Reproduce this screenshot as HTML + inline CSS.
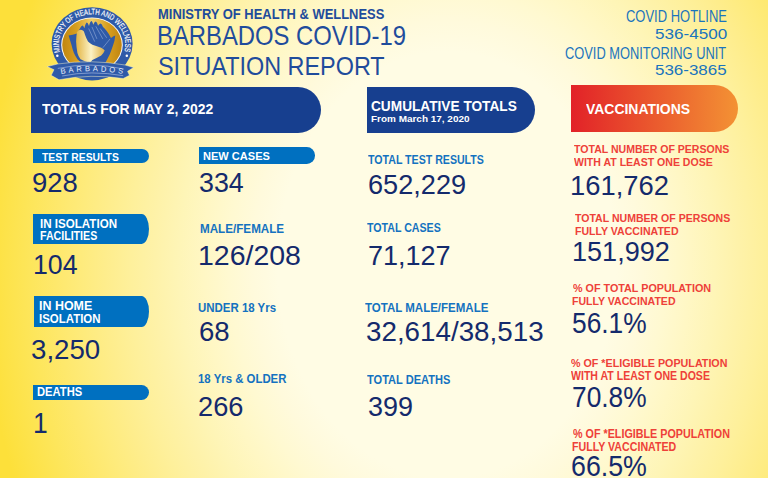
<!DOCTYPE html>
<html><head><meta charset="utf-8">
<style>
html,body{margin:0;padding:0;}
body{width:768px;height:478px;overflow:hidden;position:relative;font-family:"Liberation Sans",sans-serif;background:radial-gradient(465px 585px at 447px 265px,rgb(255,252,228) 36.4%,rgb(255,250,220) 41.7%,rgb(255,249,209) 47.0%,rgb(255,247,196) 52.3%,rgb(254,245,183) 57.6%,rgb(254,242,169) 62.9%,rgb(254,240,155) 68.2%,rgb(254,237,140) 73.5%,rgb(254,235,124) 78.8%,rgb(254,232,108) 84.1%,rgb(253,230,92) 89.4%,rgb(253,227,75) 94.7%,rgb(253,224,58) 100.0%);}
.t{position:absolute;white-space:nowrap;transform-origin:0 0;}
.bn{position:absolute;}
</style></head><body>
<div class="bn" style="left:31px;top:87px;width:290px;height:46px;background:#173f8f;border-radius:0 23px 23px 0;"></div>
<div class="bn" style="left:367px;top:87px;width:168px;height:46px;background:#173f8f;border-radius:0 23px 23px 0;"></div>
<div class="bn" style="left:571px;top:85.1px;width:167px;height:47.3px;background:linear-gradient(90deg,#e22228,#f39234);border-radius:0 23.5px 23.5px 0;"></div>
<div class="bn" style="left:33px;top:148.7px;width:115.8px;height:14.4px;background:#0070c0;border-radius:0 7.2px 7.2px 0;"></div>
<div class="bn" style="left:33px;top:213.7px;width:115.7px;height:30.6px;background:#0070c0;border-radius:0 7.5px 7.5px 0 / 0 15.3px 15.3px 0;"></div>
<div class="bn" style="left:33.7px;top:296.3px;width:115px;height:30.4px;background:#0070c0;border-radius:0 7.5px 7.5px 0 / 0 15.5px 15.5px 0;"></div>
<div class="bn" style="left:33px;top:384.5px;width:116px;height:15.7px;background:#0070c0;border-radius:0 7.8px 7.8px 0;"></div>
<div class="bn" style="left:198.6px;top:147.3px;width:116px;height:16.4px;background:#0070c0;border-radius:0 8.2px 8.2px 0;"></div>
<svg style="position:absolute;left:0;top:0" width="160" height="90" viewBox="0 0 160 90">
<defs>
<linearGradient id="gd" x1="62" y1="0" x2="122" y2="0" gradientUnits="userSpaceOnUse">
<stop offset="0" stop-color="#c08510"/><stop offset="0.25" stop-color="#d9a021"/><stop offset="0.5" stop-color="#efcf6c"/><stop offset="0.75" stop-color="#d9a021"/><stop offset="1" stop-color="#c08510"/>
</linearGradient>
<linearGradient id="isl" x1="76" y1="0" x2="106" y2="0" gradientUnits="userSpaceOnUse">
<stop offset="0" stop-color="#e3b443"/><stop offset="0.5" stop-color="#fcf2c4"/><stop offset="1" stop-color="#dcaa38"/>
</linearGradient>
<path id="arcT" d="M60.3,53 A33.2,30.0 0 1 1 123.9,53"/>
<path id="arcB" d="M61,74 Q91,68.5 123.5,74"/>
</defs>
<ellipse cx="92.1" cy="43.8" rx="40.5" ry="36.6" fill="#2f5aa8"/>
<ellipse cx="92" cy="45" rx="30.8" ry="27.6" fill="#ffffff"/>
<ellipse cx="92" cy="45" rx="29.8" ry="26.7" fill="url(#gd)"/>
<path d="M68.6,35.4 Q72.5,35 77,33.5 Q79,30 80.8,27 Q81.6,25.6 82.6,25.4 Q83.6,25.8 84.4,28.3 Q85.3,23.5 86.8,22.4 Q88,22.3 89,26 Q89.8,22 91.2,21 Q92.4,21 93.3,24.8 Q94.2,21.8 95.7,21.4 Q97,21.7 98,25.8 Q99.2,23.6 100.6,23.4 Q101.9,23.8 103,27 Q104,27.5 104.6,28.6 Q106.8,31 108.8,34 L111,38 Q113,36 115.3,35.4 Q114.8,40.5 113,45.6 Q111.5,50 109.7,54.6 Q107.5,59 105,63.5 L82.6,64 Q80,61.5 77.4,59.2 Q75.3,56 73.9,53 Q72.3,48.5 71.3,44.2 Q69.8,39.5 68.6,35.4 Z" fill="#2f5aa8"/>
<path d="M80.9,29.7 Q82.6,29.9 83.6,31 Q84.5,32.5 84.9,34.5 Q86.3,38.5 88,41.6 Q90,43.6 92.4,44.7 Q97,46 101.2,47.7 Q103.5,48.8 104.7,50.4 Q103.5,53.5 101.2,55.6 Q97,58 92.4,60 Q91,61.8 89.7,62.7 Q84.5,61.5 80.5,59.2 Q78.3,56.5 77.4,53 Q76.3,47 76.1,41.6 Q76.2,36 77,31.9 Q78.5,29.8 80.9,29.7 Z" fill="url(#isl)"/>
<path d="M88.7,28.5 L94.7,41.6 M91.96,26.9 L96.9,38.9 M95.8,26.3 L102.8,38.9 M100.1,28.5 L106.7,37.8 M102.9,47.7 L110,39" stroke="#a9bde3" stroke-width="0.5" fill="none"/>
<text font-family="Liberation Sans" font-size="8" fill="#ffffff" stroke="#ffffff" stroke-width="0.15"><textPath href="#arcT" startOffset="1" textLength="114" lengthAdjust="spacingAndGlyphs">MINISTRY OF HEALTH AND WELLNESS</textPath></text>
<circle cx="57.3" cy="55.8" r="1.25" fill="#fff"/>
<circle cx="126.8" cy="55.8" r="1.25" fill="#fff"/>
<path d="M47.1,66.6 L57.5,64 Q91,59 125.1,65 L133.6,67.5 L127.6,71.3 L129.5,75.35 L123.2,78.5 Q91,73.5 59,79.75 L51.2,75.35 L54,69.7 Z" fill="#2f5aa8" stroke="#f4f0c8" stroke-width="0.5"/>
<path d="M57.8,68.4 Q91,61.5 123.9,69" stroke="#c3d0ec" stroke-width="0.55" fill="none"/>
<path d="M62.2,76 Q91,70 123.2,75.7" stroke="#c3d0ec" stroke-width="0.55" fill="none"/>
<text font-family="Liberation Sans" font-size="7.6" fill="#e9eef8"><textPath href="#arcB" startOffset="0" textLength="62" lengthAdjust="spacing">BARBADOS</textPath></text>
</svg>

<div class="t" style="left:158.26px;top:7.22px;font-size:14.29px;line-height:14.29px;font-weight:700;color:#1f4c9c;transform:scaleX(0.9067);">MINISTRY OF HEALTH &amp; WELLNESS</div>
<div class="t" style="left:157.09px;top:22.39px;font-size:27.29px;line-height:27.29px;font-weight:400;color:#1f4c9c;transform:scaleX(0.8736);">BARBADOS COVID-19</div>
<div class="t" style="left:157.68px;top:53.79px;font-size:25.94px;line-height:25.94px;font-weight:400;color:#1f4c9c;transform:scaleX(0.9022);">SITUATION REPORT</div>
<div class="t" style="left:626.35px;top:8.57px;font-size:15.86px;line-height:15.86px;font-weight:400;color:#1a74bd;transform:scaleX(0.8181);">COVID HOTLINE</div>
<div class="t" style="left:655.00px;top:27.19px;font-size:14.63px;line-height:14.63px;font-weight:400;color:#1a74bd;transform:scaleX(1.1671);">536-4500</div>
<div class="t" style="left:565.35px;top:45.36px;font-size:16.11px;line-height:16.11px;font-weight:400;color:#1a74bd;transform:scaleX(0.7980);">COVID MONITORING UNIT</div>
<div class="t" style="left:655.39px;top:61.81px;font-size:15.45px;line-height:15.45px;font-weight:400;color:#1a74bd;transform:scaleX(1.0984);">536-3865</div>
<div class="t" style="left:41.74px;top:101.90px;font-size:14.29px;line-height:14.29px;font-weight:700;color:#ffffff;transform:scaleX(0.9741);">TOTALS FOR MAY 2, 2022</div>
<div class="t" style="left:371.45px;top:98.90px;font-size:14.29px;line-height:14.29px;font-weight:700;color:#ffffff;transform:scaleX(0.9571);">CUMULATIVE TOTALS</div>
<div class="t" style="left:371.35px;top:114.44px;font-size:9.52px;line-height:9.52px;font-weight:700;color:#ffffff;transform:scaleX(1.0464);">From March 17, 2020</div>
<div class="t" style="left:585.73px;top:101.30px;font-size:15.00px;line-height:15.00px;font-weight:700;color:#ffffff;transform:scaleX(0.9295);">VACCINATIONS</div>
<div class="t" style="left:41.73px;top:151.58px;font-size:11.48px;line-height:11.48px;font-weight:700;color:#ffffff;transform:scaleX(0.9014);">TEST RESULTS</div>
<div class="t" style="left:40.23px;top:217.65px;font-size:12.18px;line-height:12.18px;font-weight:700;color:#ffffff;transform:scaleX(0.9522);">IN ISOLATION</div>
<div class="t" style="left:40.21px;top:230.22px;font-size:12.14px;line-height:12.14px;font-weight:700;color:#ffffff;transform:scaleX(0.8757);">FACILITIES</div>
<div class="t" style="left:39.34px;top:299.78px;font-size:12.08px;line-height:12.08px;font-weight:700;color:#ffffff;transform:scaleX(1.0300);">IN HOME</div>
<div class="t" style="left:39.26px;top:312.84px;font-size:12.00px;line-height:12.00px;font-weight:700;color:#ffffff;transform:scaleX(0.9542);">ISOLATION</div>
<div class="t" style="left:36.67px;top:386.22px;font-size:12.14px;line-height:12.14px;font-weight:700;color:#ffffff;transform:scaleX(0.9229);">DEATHS</div>
<div class="t" style="left:203.15px;top:149.97px;font-size:11.76px;line-height:11.76px;font-weight:700;color:#ffffff;transform:scaleX(0.9397);">NEW CASES</div>
<div class="t" style="left:31.96px;top:168.55px;font-size:27.57px;line-height:27.57px;font-weight:400;color:#142a6c;transform:scaleX(0.9963);">928</div>
<div class="t" style="left:32.73px;top:250.37px;font-size:28.29px;line-height:28.29px;font-weight:400;color:#142a6c;transform:scaleX(0.9446);">104</div>
<div class="t" style="left:31.36px;top:337.28px;font-size:27.00px;line-height:27.00px;font-weight:400;color:#142a6c;transform:scaleX(1.0242);">3,250</div>
<div class="t" style="left:32.89px;top:408.50px;font-size:28.71px;line-height:28.71px;font-weight:400;color:#142a6c;transform:scaleX(0.9218);">1</div>
<div class="t" style="left:198.83px;top:168.04px;font-size:28.48px;line-height:28.48px;font-weight:400;color:#142a6c;transform:scaleX(0.9420);">334</div>
<div class="t" style="left:197.86px;top:242.29px;font-size:28.00px;line-height:28.00px;font-weight:400;color:#142a6c;transform:scaleX(1.0173);">126/208</div>
<div class="t" style="left:198.87px;top:317.81px;font-size:27.86px;line-height:27.86px;font-weight:400;color:#142a6c;transform:scaleX(0.9907);">68</div>
<div class="t" style="left:197.74px;top:393.09px;font-size:27.29px;line-height:27.29px;font-weight:400;color:#142a6c;transform:scaleX(0.9983);">266</div>
<div class="t" style="left:368.33px;top:170.57px;font-size:27.43px;line-height:27.43px;font-weight:400;color:#142a6c;transform:scaleX(0.9895);">652,229</div>
<div class="t" style="left:367.72px;top:242.27px;font-size:27.86px;line-height:27.86px;font-weight:400;color:#142a6c;transform:scaleX(0.9696);">71,127</div>
<div class="t" style="left:366.04px;top:318.02px;font-size:27.14px;line-height:27.14px;font-weight:400;color:#142a6c;transform:scaleX(1.0237);">32,614/38,513</div>
<div class="t" style="left:367.50px;top:393.55px;font-size:26.92px;line-height:26.92px;font-weight:400;color:#142a6c;transform:scaleX(1.0019);">399</div>
<div class="t" style="left:570.35px;top:172.49px;font-size:28.00px;line-height:28.00px;font-weight:400;color:#142a6c;transform:scaleX(0.9773);">161,762</div>
<div class="t" style="left:571.76px;top:238.82px;font-size:27.00px;line-height:27.00px;font-weight:400;color:#142a6c;transform:scaleX(1.0019);">151,992</div>
<div class="t" style="left:572.22px;top:308.84px;font-size:28.74px;line-height:28.74px;font-weight:400;color:#142a6c;transform:scaleX(0.9156);">56.1%</div>
<div class="t" style="left:571.59px;top:383.17px;font-size:28.97px;line-height:28.97px;font-weight:400;color:#142a6c;transform:scaleX(0.9080);">70.8%</div>
<div class="t" style="left:571.25px;top:451.59px;font-size:29.23px;line-height:29.23px;font-weight:400;color:#142a6c;transform:scaleX(0.9159);">66.5%</div>
<div class="t" style="left:199.55px;top:223.52px;font-size:11.88px;line-height:11.88px;font-weight:700;color:#1472c0;transform:scaleX(0.9810);">MALE/FEMALE</div>
<div class="t" style="left:197.54px;top:301.80px;font-size:12.29px;line-height:12.29px;font-weight:700;color:#1472c0;transform:scaleX(0.9320);">UNDER 18 Yrs</div>
<div class="t" style="left:197.72px;top:372.61px;font-size:12.86px;line-height:12.86px;font-weight:700;color:#1472c0;transform:scaleX(0.8861);">18 Yrs &amp; OLDER</div>
<div class="t" style="left:368.31px;top:153.78px;font-size:12.66px;line-height:12.66px;font-weight:700;color:#1472c0;transform:scaleX(0.8378);">TOTAL TEST RESULTS</div>
<div class="t" style="left:367.18px;top:221.76px;font-size:12.17px;line-height:12.17px;font-weight:700;color:#1472c0;transform:scaleX(0.8739);">TOTAL CASES</div>
<div class="t" style="left:365.01px;top:301.76px;font-size:12.79px;line-height:12.79px;font-weight:700;color:#1472c0;transform:scaleX(0.9001);">TOTAL MALE/FEMALE</div>
<div class="t" style="left:367.18px;top:373.88px;font-size:12.08px;line-height:12.08px;font-weight:700;color:#1472c0;transform:scaleX(0.9148);">TOTAL DEATHS</div>
<div class="t" style="left:573.77px;top:144.04px;font-size:11.57px;line-height:11.57px;font-weight:700;color:#ee4139;transform:scaleX(0.9129);">TOTAL NUMBER OF PERSONS</div>
<div class="t" style="left:573.51px;top:157.29px;font-size:11.37px;line-height:11.37px;font-weight:700;color:#ee4139;transform:scaleX(0.9276);">WITH AT LEAST ONE DOSE</div>
<div class="t" style="left:575.19px;top:211.78px;font-size:11.71px;line-height:11.71px;font-weight:700;color:#ee4139;transform:scaleX(0.9011);">TOTAL NUMBER OF PERSONS</div>
<div class="t" style="left:574.61px;top:225.08px;font-size:11.71px;line-height:11.71px;font-weight:700;color:#ee4139;transform:scaleX(0.9030);">FULLY VACCINATED</div>
<div class="t" style="left:572.83px;top:281.78px;font-size:11.71px;line-height:11.71px;font-weight:700;color:#ee4139;transform:scaleX(0.9204);">% OF TOTAL POPULATION</div>
<div class="t" style="left:572.28px;top:296.11px;font-size:11.24px;line-height:11.24px;font-weight:700;color:#ee4139;transform:scaleX(0.9409);">FULLY VACCINATED</div>
<div class="t" style="left:571.45px;top:358.01px;font-size:11.37px;line-height:11.37px;font-weight:700;color:#ee4139;transform:scaleX(0.9437);">% OF *ELIGIBLE POPULATION</div>
<div class="t" style="left:571.25px;top:370.30px;font-size:12.24px;line-height:12.24px;font-weight:700;color:#ee4139;transform:scaleX(0.8626);">WITH AT LEAST ONE DOSE</div>
<div class="t" style="left:572.63px;top:427.92px;font-size:12.14px;line-height:12.14px;font-weight:700;color:#ee4139;transform:scaleX(0.8871);">% OF *ELIGIBLE POPULATION</div>
<div class="t" style="left:572.21px;top:440.84px;font-size:12.00px;line-height:12.00px;font-weight:700;color:#ee4139;transform:scaleX(0.8867);">FULLY VACCINATED</div>
</body></html>
